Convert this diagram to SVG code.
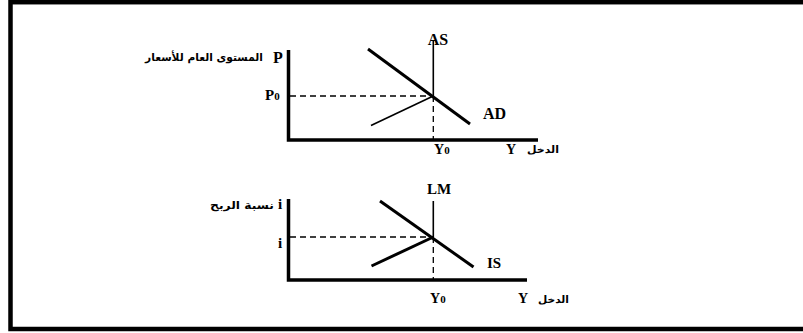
<svg xmlns="http://www.w3.org/2000/svg" width="803" height="333" viewBox="0 0 803 333">
<style>
.lat{font-family:"Liberation Serif","Times New Roman",serif;font-weight:bold;fill:#000}
.ar{font-family:"DejaVu Sans","Noto Sans",sans-serif;font-weight:bold;fill:#000}
.axis{stroke:#000;stroke-width:3.5;fill:none}
.thin{stroke:#000;stroke-width:1.6;fill:none}
.thick{stroke:#000;stroke-width:3;fill:none}
.dash{stroke:#000;stroke-width:1.3;stroke-dasharray:6,4;fill:none}
</style>
<rect x="0" y="0" width="803" height="333" fill="#fff"/>
<rect id="frame" x="10.5" y="2.2" width="800" height="326.8" fill="none" stroke="#000" stroke-width="4.5"/>

<g id="top-chart">
  <g id="top-axes">
    <path class="axis" d="M288.5,50 V140 H538"/>
  </g>
  <g id="connectors">
    <line class="thin" x1="433.3" y1="40" x2="433.3" y2="96"/>
    <line class="dash" x1="433.3" y1="96" x2="433.3" y2="140"/>
    <line class="dash" x1="290" y1="96" x2="433.3" y2="96"/>
    <line class="thick" x1="368" y1="49" x2="470" y2="124"/>
    <line class="thin" x1="371" y1="125.5" x2="433.3" y2="96"/>
    <line class="thin" x1="433.3" y1="201" x2="433.3" y2="237"/>
    <line class="dash" x1="433.3" y1="237" x2="433.3" y2="280"/>
    <line class="dash" x1="290" y1="237" x2="433.3" y2="237"/>
    <line class="thick" x1="380" y1="201" x2="473.5" y2="267"/>
    <line class="thick" x1="371.5" y1="266" x2="433.3" y2="237"/>
  </g>
  <g id="label-AS"><text class="lat" x="438" y="45" font-size="16" text-anchor="middle">AS</text></g>
  <g id="label-AD"><text class="lat" x="483" y="119" font-size="16">AD</text></g>
  <g id="label-P"><text class="lat" x="273" y="63" font-size="16">P</text></g>
  <g id="label-P0"><text class="lat" x="265" y="100" font-size="15">P<tspan font-size="11">0</tspan></text></g>
  <g id="label-price-ar"><text class="ar" x="263" y="61" font-size="11" text-anchor="end" textLength="118" lengthAdjust="spacingAndGlyphs">المستوى العام للأسعار</text></g>
  <g id="label-Y0-top"><text class="lat" x="434" y="154" font-size="14">Y<tspan font-size="11">0</tspan></text></g>
  <g id="label-Y-top"><text class="lat" x="506" y="154" font-size="14">Y</text></g>
  <g id="label-income-ar-top"><text class="ar" x="559" y="153" font-size="10" text-anchor="end" textLength="32" lengthAdjust="spacingAndGlyphs">الدخل</text></g>
</g>

<g id="bottom-chart">
  <g id="bottom-axes">
    <path class="axis" d="M288.5,199 V280 H527"/>
  </g>
  <g id="label-LM"><text class="lat" x="439" y="194" font-size="15" text-anchor="middle">LM</text></g>
  <g id="label-IS"><text class="lat" x="487" y="268" font-size="15">IS</text></g>
  <g id="label-i-top"><text class="lat" x="278" y="209" font-size="15">i</text></g>
  <g id="label-i"><text class="lat" x="278" y="248" font-size="15">i</text></g>
  <g id="label-interest-ar"><text class="ar" x="274" y="209" font-size="11" text-anchor="end" textLength="64" lengthAdjust="spacingAndGlyphs">نسبة الربح</text></g>
  <g id="label-Y0-bottom"><text class="lat" x="430" y="303" font-size="14">Y<tspan font-size="11">0</tspan></text></g>
  <g id="label-Y-bottom"><text class="lat" x="518" y="303" font-size="14">Y</text></g>
  <g id="label-income-ar-bottom"><text class="ar" x="569" y="303" font-size="10" text-anchor="end" textLength="31" lengthAdjust="spacingAndGlyphs">الدخل</text></g>
</g>
</svg>
